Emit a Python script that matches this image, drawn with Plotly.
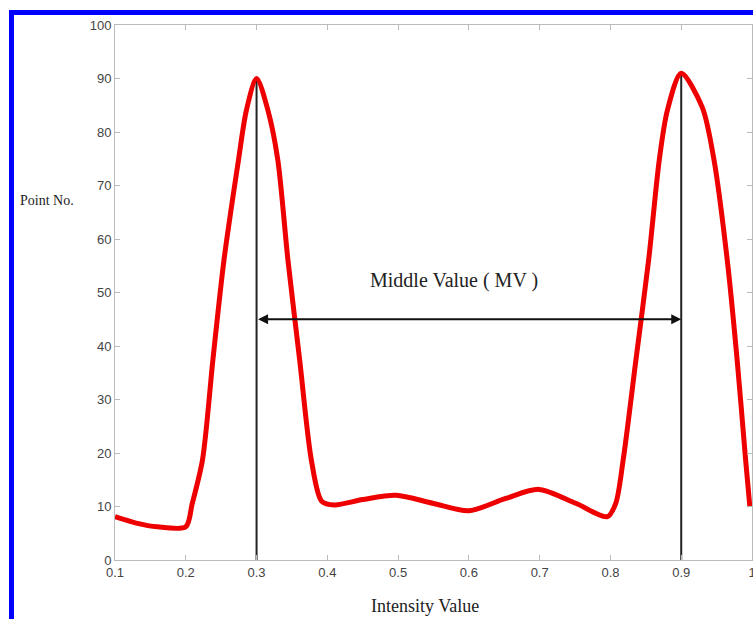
import plotly.graph_objects as go

# Data
intensity = [0.1, 0.13, 0.16, 0.2, 0.209, 0.2236, 0.2383, 0.254, 0.2745, 0.2857, 0.3,
             0.316, 0.330, 0.3443, 0.3609, 0.3774, 0.392, 0.41, 0.45, 0.497, 0.549, 0.6,
             0.652, 0.699, 0.751, 0.7957, 0.8075, 0.818, 0.836, 0.854, 0.869, 0.8805, 0.9,
             0.9298, 0.9463, 0.965, 0.979, 0.991, 0.997]
point_no = [8.1, 6.9, 6.2, 6.2, 10.5, 18.7, 37.4, 56.1, 74.8, 84.1, 90,
            84.1, 74.8, 56.1, 37.4, 18.7, 11, 10.3, 11.3, 12.1, 10.6, 9.2,
            11.5, 13.2, 10.6, 8.1, 10.6, 18.7, 37.4, 56.1, 74.8, 84.1, 91,
            84.6, 74.8, 56.1, 37.4, 18.7, 9.9]
peak_x = [0.3, 0.9]
peak_y = [90, 91]
arrow_y = 45
mv_label = "Middle Value ( MV )"
x_ticks = [0.1, 0.2, 0.3, 0.4, 0.5, 0.6, 0.7, 0.8, 0.9, 1]
y_ticks = [0, 10, 20, 30, 40, 50, 60, 70, 80, 90, 100]

W, H = 753, 619
ML, MR, MT, MB = 115, 1, 25, 59
PW, PH = W - ML - MR, H - MT - MB

def px_x(p):
    return (p - ML) / PW

def px_y(p):
    return (H - MB - p) / PH

fig = go.Figure()

for xv, yv in zip(peak_x, peak_y):
    fig.add_trace(go.Scatter(x=[xv, xv], y=[0, yv], mode="lines",
                             line=dict(color="#222222", width=2), showlegend=False,
                             hoverinfo="skip"))

fig.add_trace(go.Scatter(x=intensity, y=point_no, mode="lines",
                         line=dict(color="#ee0000", width=5, shape="spline", smoothing=0.8),
                         showlegend=False))

fig.add_annotation(x=peak_x[1], y=arrow_y, ax=peak_x[0], ay=arrow_y,
                   xref="x", yref="y", axref="x", ayref="y", text="",
                   showarrow=True, arrowhead=2, startarrowhead=2, arrowside="end+start",
                   arrowwidth=2, arrowsize=1, startarrowsize=1, arrowcolor="#111111")
fig.add_annotation(x=0.579, y=52.3, xref="x", yref="y", text=mv_label, showarrow=False,
                   font=dict(family="Liberation Serif", size=20, color="#222222"))

fig.add_annotation(x=px_x(18), y=px_y(201), xref="paper", yref="paper", text="Point No.",
                   showarrow=False, xanchor="left", yanchor="middle",
                   font=dict(family="Liberation Serif", size=14, color="#222222"))
fig.add_annotation(x=px_x(425), y=px_y(606), xref="paper", yref="paper", text="Intensity Value",
                   showarrow=False, xanchor="center", yanchor="middle",
                   font=dict(family="Liberation Serif", size=18, color="#222222"))

# blue frame
fig.add_shape(type="rect", xref="paper", yref="paper", x0=px_x(9), x1=px_x(760),
              y0=px_y(15), y1=px_y(10), fillcolor="#0000ff", line=dict(width=0), layer="above")
fig.add_shape(type="rect", xref="paper", yref="paper", x0=px_x(9), x1=px_x(14),
              y0=px_y(630), y1=px_y(10), fillcolor="#0000ff", line=dict(width=0), layer="above")

axis_common = dict(showgrid=False, zeroline=False, showline=True, linecolor="#bbbbbb",
                   linewidth=1, mirror="ticks", ticks="inside", ticklen=5, tickcolor="#bbbbbb",
                   ticklabeloverflow="allow", automargin=False,
                   tickfont=dict(family="Liberation Sans", size=13, color="#444444"))

fig.update_xaxes(range=[0.1, 1.0], tickvals=x_ticks,
                 ticktext=[("%g" % v) for v in x_ticks], **axis_common)
fig.update_yaxes(range=[0, 100], tickvals=y_ticks, **axis_common)

fig.update_layout(width=W, height=H, margin=dict(l=ML, r=MR, t=MT, b=MB),
                  plot_bgcolor="white", paper_bgcolor="white")

fig.write_html("out.html")
